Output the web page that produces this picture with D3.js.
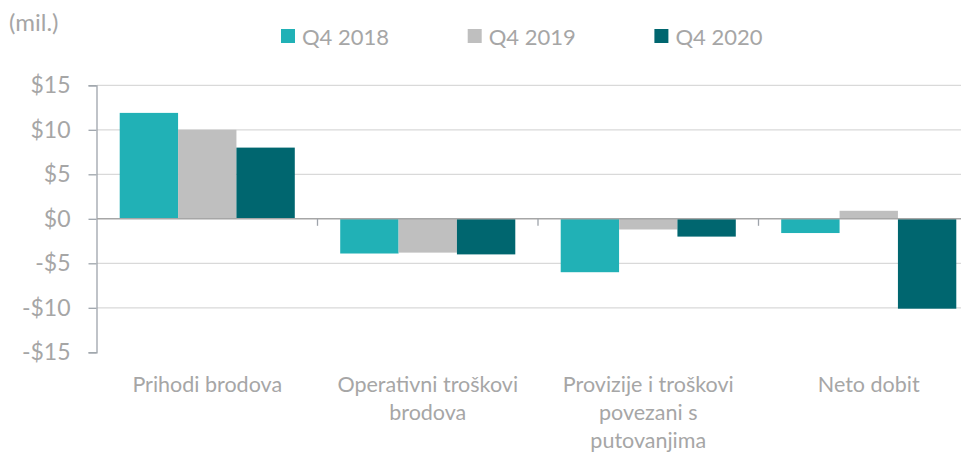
<!DOCTYPE html>
<html lang="hr">
<head>
  <meta charset="UTF-8">
  <title>Q4 usporedba</title>
  <style>
    body { margin: 0; background: #fff; }
    svg text { font-family: Lato, "Open Sans", sans-serif; fill: #a6a6a6; }
    .grid line { stroke: #d9d9d9; stroke-width: 1.3px; }
  </style>
</head>
<body>
  <svg width="961" height="453"></svg>

  <script src="https://d3js.org/d3.v7.min.js"></script>
  <script>
    const categories = ["Prihodi brodova", "Operativni troškovi\nbrodova", "Provizije i troškovi\npovezani s\nputovanjima", "Neto dobit"];
    const seriesNames = ["Q4 2018", "Q4 2019", "Q4 2020"];
    const q42018 = [11.9, -3.9, -6.0, -1.6];
    const q42019 = [10.0, -3.8, -1.2, 0.9];
    const q42020 = [8.0, -4.0, -2.0, -10.1];
    const colors = ["#21b1b6", "#bfbfbf", "#00666f"];
    const yTicks = [-15, -10, -5, 0, 5, 10, 15];

    const series = [q42018, q42019, q42020];

    const svg = d3.select("svg");

    const x0 = d3.scaleBand().domain(categories).range([97, 979]).padding(0);
    const x1 = d3.scaleBand().domain(seriesNames)
      .range([x0.bandwidth() * 0.103, x0.bandwidth() * 0.897]).padding(0);
    const y = d3.scaleLinear().domain([-15, 15]).range([352.3, 85.3]);

    // gridlines
    svg.append("g").attr("class", "grid")
      .selectAll("line")
      .data(yTicks.filter(t => t !== 0 && t !== -15))
      .join("line")
      .attr("x1", 97).attr("x2", 979)
      .attr("y1", d => y(d)).attr("y2", d => y(d));

    // bars
    const groups = svg.append("g")
      .selectAll("g")
      .data(categories)
      .join("g")
      .attr("transform", d => `translate(${x0(d)},0)`);

    groups.selectAll("rect")
      .data((c, ci) => seriesNames.map((s, si) => ({ s, v: series[si][ci], i: si })))
      .join("rect")
      .attr("x", d => x1(d.s))
      .attr("width", x1.bandwidth())
      .attr("y", d => y(Math.max(0, d.v)))
      .attr("height", d => Math.abs(y(d.v) - y(0)))
      .attr("fill", d => colors[d.i]);

    // y axis
    const yAxis = svg.append("g")
      .attr("transform", "translate(96.5,0)")
      .call(d3.axisLeft(y).tickValues(yTicks).tickSize(8).tickPadding(18)
        .tickFormat(d => (d < 0 ? "-$" : "$") + Math.abs(d)));
    yAxis.select(".domain").attr("stroke", "#9ea4ab").attr("stroke-width", 1.3);
    yAxis.selectAll(".tick line").attr("stroke", "#9ea4ab").attr("stroke-width", 1.3);
    yAxis.selectAll(".tick text").style("font-size", "23px").attr("fill", "#a6a6a6");

    // zero line with category ticks
    const xAxis = svg.append("g")
      .attr("transform", `translate(0,${y(0)})`);
    xAxis.append("line")
      .attr("x1", 97).attr("x2", 979)
      .attr("stroke", "#a6a6a6").attr("stroke-width", 1.5);
    xAxis.selectAll("line.ct")
      .data(categories.slice(1))
      .join("line").attr("class", "ct")
      .attr("x1", d => x0(d)).attr("x2", d => x0(d))
      .attr("y1", 0).attr("y2", 7)
      .attr("stroke", "#9ea4ab").attr("stroke-width", 1.3);

    // category labels
    svg.append("g")
      .selectAll("text")
      .data(categories)
      .join("text")
      .attr("text-anchor", "middle")
      .attr("x", d => x0(d) + x0.bandwidth() / 2)
      .attr("y", 392)
      .style("font-size", "21.5px")
      .selectAll("tspan")
      .data(d => d.split("\n"))
      .join("tspan")
      .attr("x", function () { return d3.select(this.parentNode).attr("x"); })
      .attr("dy", (d, i) => i === 0 ? 0 : 28)
      .text(d => d);

    // unit label
    svg.append("text")
      .attr("x", 9).attr("y", 31)
      .style("font-size", "24px")
      .text("(mil.)");

    // legend
    const legend = svg.append("g")
      .selectAll("g")
      .data(seriesNames)
      .join("g")
      .attr("transform", (d, i) => `translate(${281 + i * 186.7},29)`);
    legend.append("rect")
      .attr("width", 14).attr("height", 14)
      .attr("fill", (d, i) => colors[i]);
    legend.append("text")
      .attr("x", 21).attr("y", 16)
      .style("font-size", "22px")
      .text(d => d);
  </script>
</body>
</html>
